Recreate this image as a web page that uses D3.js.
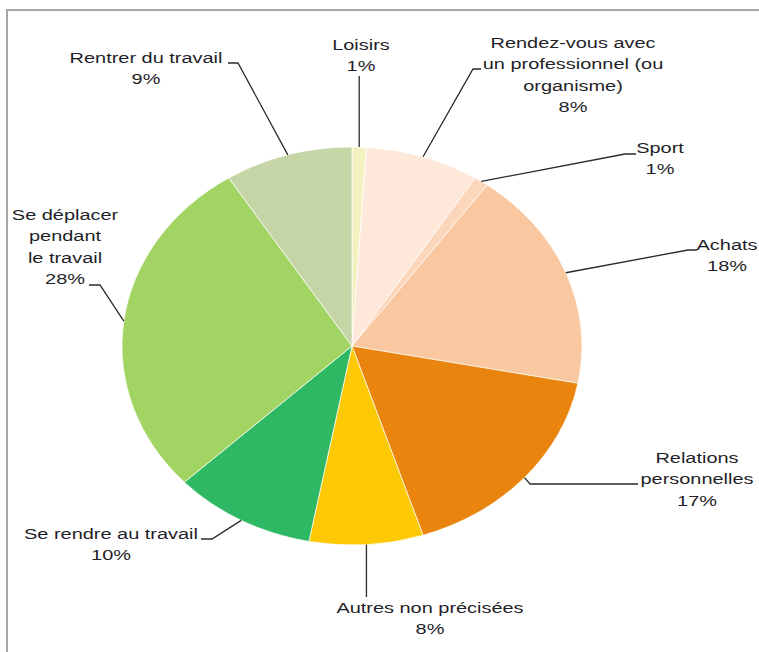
<!DOCTYPE html>
<html>
<head>
<meta charset="utf-8">
<script src="https://cdn.jsdelivr.net/npm/d3@7"></script>
<style>
  html, body { margin: 0; padding: 0; background: #ffffff; }
  svg { display: block; }
  text { font-family: "Liberation Sans", Arial, Helvetica, sans-serif; font-size: 15px; fill: #1f1f28; }
</style>
</head>
<body>
<svg id="chart" width="759" height="652"></svg>
<script>
// ---- data ----
const categories = [
  "Loisirs",
  "Rendez-vous avec un professionnel (ou organisme)",
  "Sport",
  "Achats",
  "Relations personnelles",
  "Autres non précisées",
  "Se rendre au travail",
  "Se déplacer pendant le travail",
  "Rentrer du travail"
];
const values = [1, 8, 1, 18, 17, 8, 10, 28, 9];
const labelLines = [
  ["Loisirs"],
  ["Rendez-vous avec", "un professionnel (ou", "organisme)"],
  ["Sport"],
  ["Achats"],
  ["Relations", "personnelles"],
  ["Autres non précisées"],
  ["Se rendre au travail"],
  ["Se déplacer", "pendant", "le travail"],
  ["Rentrer du travail"]
];
const colors = ["#f3f1c0", "#fde8da", "#fbd6bb", "#f9c8a0", "#e9840f", "#fdc804", "#2fb864", "#a2d464", "#c5d5a6"];

// ---- layout (positions of labels and leader elbows) ----
const layout = [
  { x: 361, y: 50,  ex: null, ey: 76,  hx: null },
  { x: 573, y: 48,  ex: 473, ey: 69,  hx: 481 },
  { x: 660, y: 153, ex: 625, ey: 154, hx: 636 },
  { x: 727, y: 250, ex: 688, ey: 250, hx: 697 },
  { x: 697, y: 463, ex: 530, ey: 484, hx: 638 },
  { x: 430, y: 613, ex: null, ey: 597, hx: null },
  { x: 111, y: 539, ex: 212, ey: 539, hx: 201 },
  { x: 65,  y: 220, ex: 100, ey: 285, hx: 89 },
  { x: 146, y: 63,  ex: 238, ey: 63,  hx: 228 }
];

const cx = 352, cy = 346, rx = 230, ry = 199;
const lineH = 21.4;
const sx = 1.33;

const svg = d3.select("#chart");

// frame
svg.append("path")
  .attr("d", "M7,652 V10 H759")
  .attr("fill", "none")
  .attr("stroke", "#a7a7a7")
  .attr("stroke-width", 2);

const data = categories.map((c, i) => ({ name: c, value: values[i], i }));
const pie = d3.pie().value(d => d.value).sort(null).startAngle(0).endAngle(2 * Math.PI);
const arcs = pie(data);
const arc = d3.arc().innerRadius(0).outerRadius(rx);
const color = d3.scaleOrdinal().domain(categories).range(colors);

const g = svg.append("g").attr("transform", `translate(${cx},${cy}) scale(1,${ry / rx})`);
g.selectAll("path.slice")
  .data(arcs)
  .enter().append("path")
  .attr("class", "slice")
  .attr("d", arc)
  .attr("fill", d => color(d.data.name))
  .attr("stroke", "#ffffff")
  .attr("stroke-width", 0.7)
  .attr("vector-effect", "non-scaling-stroke");

// leaders
arcs.forEach((d, i) => {
  const mid = (d.startAngle + d.endAngle) / 2;
  const ax = cx + rx * Math.sin(mid);
  const ay = cy - ry * Math.cos(mid);
  const L = layout[i];
  const pts = [[ax, ay]];
  if (L.ex === null) {
    pts.push([ax, L.ey]);
  } else {
    pts.push([L.ex, L.ey]);
    if (L.hx !== null) pts.push([L.hx, L.ey]);
  }
  svg.append("path")
    .attr("d", d3.line()(pts))
    .attr("fill", "none")
    .attr("stroke", "#2a2a2a")
    .attr("stroke-width", 1.3);
});

// labels
arcs.forEach((d, i) => {
  const L = layout[i];
  const lines = labelLines[i].concat([d.data.value + "%"]);
  const t = svg.append("text")
    .attr("text-anchor", "middle")
    .attr("transform", `translate(${L.x},${L.y}) scale(${sx},1)`);
  lines.forEach((s, k) => {
    t.append("tspan").attr("x", 0).attr("y", k * lineH).text(s);
  });
});
</script>
</body>
</html>
